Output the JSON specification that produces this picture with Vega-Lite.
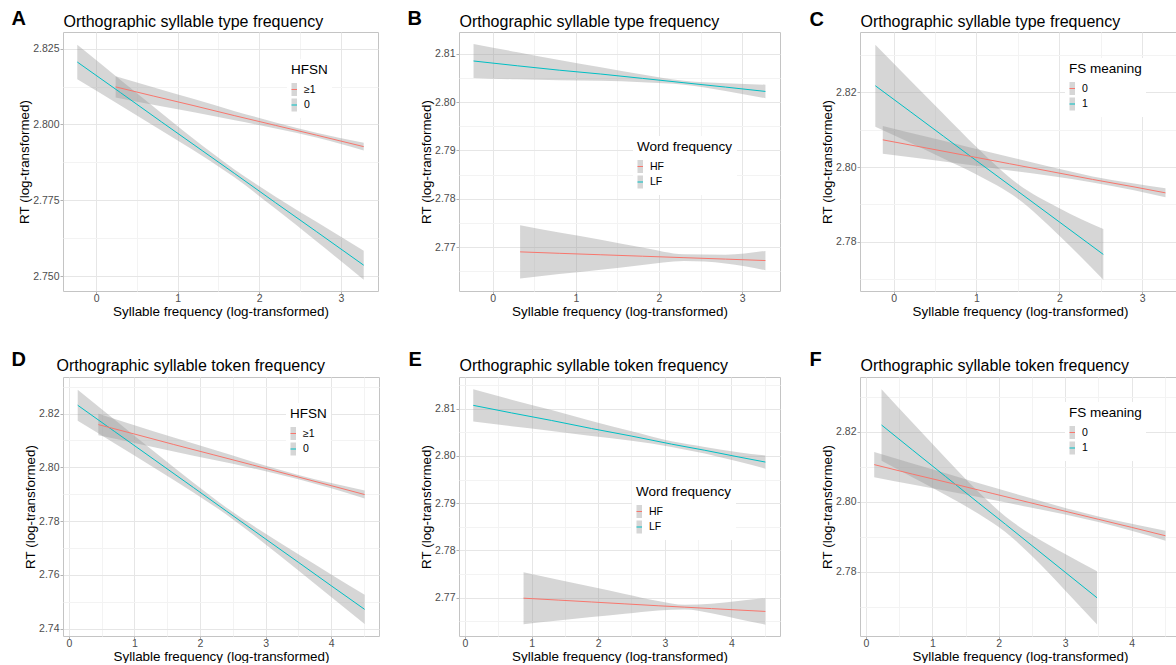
{
  "$schema": "https://vega.github.io/schema/vega-lite/v6.json",
  "background": "white",
  "padding": {"left": 10, "top": 7, "right": 0, "bottom": 0},
  "config": {
    "font": "Liberation Sans",
    "view": {"stroke": "#C4C4C4", "strokeWidth": 1},
    "axis": {"labelFontSize": 10.5, "labelColor": "#4D4D4D", "titleFontSize": 13.4, "titleFontWeight": "normal", "titleColor": "#000000", "titleLimit": 1000, "tickColor": "#B3B3B3", "tickSize": 3, "tickWidth": 1, "domain": false, "labelPadding": 1, "titlePadding": 1, "gridColor": "#E6E6E6", "gridWidth": 1, "labelOverlap": false, "labelFlush": false},
    "axisX": {"tickSize": 2.5, "labelPadding": 0, "titlePadding": 0},
    "legend": {"orient": "none", "direction": "vertical", "padding": 4, "rowPadding": -2.5, "symbolSize": 121, "symbolStrokeWidth": 1, "symbolType": "M-1,0H0V1.2H-1V-1.2H0V0Z", "symbolDash": [5.5, 300], "symbolFillColor": "#D6D6D6", "fillColor": "#FFFFFF", "labelFontSize": 10.5, "titleFontSize": 13.5, "titleFontWeight": "normal", "titlePadding": 7, "labelOffset": 1, "titleColor": "#000000", "labelColor": "#000000", "titleLimit": 1000}
  },
  "resolve": {"scale": {"stroke": "independent"}, "legend": {"stroke": "independent"}},
  "datasets": {
    "A": [
      {"g":"0","x":-0.23,"y":2.8206,"lo":2.8149,"hi":2.8263},
      {"g":"0","x":0.3,"y":2.8105,"lo":2.8063,"hi":2.8147},
      {"g":"0","x":0.8,"y":2.8009,"lo":2.7980,"hi":2.8038},
      {"g":"0","x":1.3,"y":2.7914,"lo":2.7897,"hi":2.7931},
      {"g":"0","x":1.7,"y":2.7838,"lo":2.7825,"hi":2.7851},
      {"g":"0","x":2.2,"y":2.7742,"lo":2.7722,"hi":2.7762},
      {"g":"0","x":2.7,"y":2.7647,"lo":2.7615,"hi":2.7679},
      {"g":"0","x":3.28,"y":2.7536,"lo":2.7488,"hi":2.7584},
      {"g":"≥1","x":0.24,"y":2.8124,"lo":2.8089,"hi":2.8159},
      {"g":"≥1","x":0.7,"y":2.8094,"lo":2.8065,"hi":2.8123},
      {"g":"≥1","x":1.2,"y":2.8062,"lo":2.8040,"hi":2.8084},
      {"g":"≥1","x":1.7,"y":2.8029,"lo":2.8014,"hi":2.8044},
      {"g":"≥1","x":2.2,"y":2.7997,"lo":2.7987,"hi":2.8007},
      {"g":"≥1","x":2.7,"y":2.7965,"lo":2.7957,"hi":2.7973},
      {"g":"≥1","x":3.28,"y":2.7927,"lo":2.7914,"hi":2.7940}
    ],
    "B": [
      {"g":"LF","x":-0.23,"y":2.8085,"lo":2.8050,"hi":2.8120},
      {"g":"LF","x":0.3,"y":2.8075,"lo":2.8047,"hi":2.8103},
      {"g":"LF","x":0.8,"y":2.8066,"lo":2.8045,"hi":2.8087},
      {"g":"LF","x":1.3,"y":2.8058,"lo":2.8044,"hi":2.8072},
      {"g":"LF","x":1.8,"y":2.8049,"lo":2.8041,"hi":2.8057},
      {"g":"LF","x":2.3,"y":2.8040,"lo":2.8036,"hi":2.8044},
      {"g":"LF","x":2.8,"y":2.8031,"lo":2.8023,"hi":2.8039},
      {"g":"LF","x":3.28,"y":2.8022,"lo":2.8008,"hi":2.8036},
      {"g":"HF","x":0.33,"y":2.7690,"lo":2.7635,"hi":2.7745},
      {"g":"HF","x":0.8,"y":2.7687,"lo":2.7644,"hi":2.7730},
      {"g":"HF","x":1.3,"y":2.7684,"lo":2.7653,"hi":2.7715},
      {"g":"HF","x":1.8,"y":2.7681,"lo":2.7663,"hi":2.7699},
      {"g":"HF","x":2.3,"y":2.7678,"lo":2.7671,"hi":2.7685},
      {"g":"HF","x":2.8,"y":2.7675,"lo":2.7666,"hi":2.7684},
      {"g":"HF","x":3.28,"y":2.7672,"lo":2.7652,"hi":2.7692}
    ],
    "C": [
      {"g":"1","x":-0.22,"y":2.8218,"lo":2.8108,"hi":2.8328},
      {"g":"1","x":0.2,"y":2.8149,"lo":2.8065,"hi":2.8233},
      {"g":"1","x":0.6,"y":2.8083,"lo":2.8023,"hi":2.8143},
      {"g":"1","x":1.0,"y":2.8017,"lo":2.7980,"hi":2.8054},
      {"g":"1","x":1.5,"y":2.7935,"lo":2.7915,"hi":2.7955},
      {"g":"1","x":2.0,"y":2.7853,"lo":2.7816,"hi":2.7890},
      {"g":"1","x":2.53,"y":2.7766,"lo":2.7698,"hi":2.7834},
      {"g":"0","x":-0.13,"y":2.8073,"lo":2.8036,"hi":2.8110},
      {"g":"0","x":0.4,"y":2.8051,"lo":2.8021,"hi":2.8081},
      {"g":"0","x":0.9,"y":2.8030,"lo":2.8006,"hi":2.8054},
      {"g":"0","x":1.4,"y":2.8009,"lo":2.7991,"hi":2.8027},
      {"g":"0","x":1.9,"y":2.7988,"lo":2.7976,"hi":2.8000},
      {"g":"0","x":2.4,"y":2.7967,"lo":2.7959,"hi":2.7975},
      {"g":"0","x":2.9,"y":2.7947,"lo":2.7938,"hi":2.7956},
      {"g":"0","x":3.28,"y":2.7931,"lo":2.7919,"hi":2.7943}
    ],
    "D": [
      {"g":"0","x":0.135,"y":2.8231,"lo":2.8173,"hi":2.8289},
      {"g":"0","x":0.7,"y":2.8133,"lo":2.8089,"hi":2.8177},
      {"g":"0","x":1.3,"y":2.8029,"lo":2.7999,"hi":2.8059},
      {"g":"0","x":1.9,"y":2.7925,"lo":2.7907,"hi":2.7943},
      {"g":"0","x":2.4,"y":2.7838,"lo":2.7825,"hi":2.7851},
      {"g":"0","x":2.9,"y":2.7751,"lo":2.7733,"hi":2.7769},
      {"g":"0","x":3.5,"y":2.7647,"lo":2.7617,"hi":2.7677},
      {"g":"0","x":4.0,"y":2.7560,"lo":2.7518,"hi":2.7602},
      {"g":"0","x":4.51,"y":2.7472,"lo":2.7418,"hi":2.7526},
      {"g":"≥1","x":0.45,"y":2.8159,"lo":2.8119,"hi":2.8199},
      {"g":"≥1","x":1.0,"y":2.8124,"lo":2.8091,"hi":2.8157},
      {"g":"≥1","x":1.6,"y":2.8085,"lo":2.8059,"hi":2.8111},
      {"g":"≥1","x":2.2,"y":2.8047,"lo":2.8028,"hi":2.8066},
      {"g":"≥1","x":2.8,"y":2.8009,"lo":2.7997,"hi":2.8021},
      {"g":"≥1","x":3.5,"y":2.7964,"lo":2.7956,"hi":2.7972},
      {"g":"≥1","x":4.0,"y":2.7932,"lo":2.7922,"hi":2.7942},
      {"g":"≥1","x":4.51,"y":2.7899,"lo":2.7884,"hi":2.7914}
    ],
    "E": [
      {"g":"LF","x":0.125,"y":2.8107,"lo":2.8073,"hi":2.8141},
      {"g":"LF","x":0.7,"y":2.8091,"lo":2.8063,"hi":2.8119},
      {"g":"LF","x":1.3,"y":2.8075,"lo":2.8053,"hi":2.8097},
      {"g":"LF","x":1.9,"y":2.8058,"lo":2.8042,"hi":2.8074},
      {"g":"LF","x":2.5,"y":2.8042,"lo":2.8032,"hi":2.8052},
      {"g":"LF","x":3.1,"y":2.8025,"lo":2.8019,"hi":2.8031},
      {"g":"LF","x":3.6,"y":2.8012,"lo":2.8005,"hi":2.8019},
      {"g":"LF","x":4.1,"y":2.7998,"lo":2.7988,"hi":2.8008},
      {"g":"LF","x":4.51,"y":2.7987,"lo":2.7973,"hi":2.8001},
      {"g":"HF","x":0.88,"y":2.7699,"lo":2.7644,"hi":2.7754},
      {"g":"HF","x":1.4,"y":2.7695,"lo":2.7652,"hi":2.7738},
      {"g":"HF","x":1.9,"y":2.7691,"lo":2.7659,"hi":2.7723},
      {"g":"HF","x":2.4,"y":2.7687,"lo":2.7666,"hi":2.7708},
      {"g":"HF","x":2.9,"y":2.7683,"lo":2.7673,"hi":2.7693},
      {"g":"HF","x":3.3,"y":2.7680,"lo":2.7675,"hi":2.7685},
      {"g":"HF","x":3.7,"y":2.7677,"lo":2.7667,"hi":2.7687},
      {"g":"HF","x":4.1,"y":2.7674,"lo":2.7655,"hi":2.7693},
      {"g":"HF","x":4.51,"y":2.7671,"lo":2.7643,"hi":2.7699}
    ],
    "F": [
      {"g":"1","x":0.235,"y":2.8219,"lo":2.8117,"hi":2.8321},
      {"g":"1","x":0.7,"y":2.8148,"lo":2.8070,"hi":2.8226},
      {"g":"1","x":1.2,"y":2.8072,"lo":2.8019,"hi":2.8125},
      {"g":"1","x":1.7,"y":2.7996,"lo":2.7965,"hi":2.8027},
      {"g":"1","x":2.1,"y":2.7936,"lo":2.7914,"hi":2.7958},
      {"g":"1","x":2.5,"y":2.7875,"lo":2.7845,"hi":2.7905},
      {"g":"1","x":3.0,"y":2.7799,"lo":2.7747,"hi":2.7851},
      {"g":"1","x":3.48,"y":2.7726,"lo":2.7650,"hi":2.7802},
      {"g":"0","x":0.125,"y":2.8106,"lo":2.8070,"hi":2.8142},
      {"g":"0","x":0.7,"y":2.8079,"lo":2.8049,"hi":2.8109},
      {"g":"0","x":1.3,"y":2.8052,"lo":2.8028,"hi":2.8076},
      {"g":"0","x":1.9,"y":2.8024,"lo":2.8006,"hi":2.8042},
      {"g":"0","x":2.5,"y":2.7996,"lo":2.7983,"hi":2.8009},
      {"g":"0","x":3.0,"y":2.7973,"lo":2.7964,"hi":2.7982},
      {"g":"0","x":3.5,"y":2.7950,"lo":2.7942,"hi":2.7958},
      {"g":"0","x":4.0,"y":2.7927,"lo":2.7917,"hi":2.7937},
      {"g":"0","x":4.51,"y":2.7903,"lo":2.7889,"hi":2.7917}
    ]
  },
  "spacing": 30,
  "vconcat": [
    {
      "spacing": 27,
      "resolve": {"scale": {"stroke": "independent"}, "legend": {"stroke": "independent"}},
      "hconcat": [
        {
          "width": 315, "height": 259,
          "data": {"name": "A"},
          "layer": [
            {
              "mark": {"type": "area", "interpolate": "monotone", "opacity": 0.4, "color": "#999999"},
              "encoding": {
                "x": {"field": "x", "type": "quantitative", "scale": {"domain": [-0.405, 3.455], "nice": false, "zero": false},
                  "axis": {"orient": "bottom", "values": [0, 0.5, 1, 1.5, 2, 2.5, 3], "title": "Syllable frequency (log-transformed)",
                    "labelExpr": "datum.value % 1 === 0 ? format(datum.value, 'd') : ''",
                    "gridColor": {"condition": {"test": "datum.value % 1 !== 0", "value": "#F3F3F3"}, "value": "#E6E6E6"},
                    "tickOpacity": {"condition": {"test": "datum.value % 1 !== 0", "value": 0}, "value": 1}}},
                "y": {"field": "lo", "type": "quantitative", "scale": {"domain": [2.7451, 2.8305], "nice": false, "zero": false},
                  "axis": {"orient": "left", "values": [2.75, 2.7625, 2.775, 2.7875, 2.8, 2.8125, 2.825], "title": "RT (log-transformed)",
                    "labelExpr": "abs(datum.value*40 - round(datum.value*40)) > 0.1 ? '' : format(datum.value, '.3f')",
                    "gridColor": {"condition": {"test": "abs(datum.value*40 - round(datum.value*40)) > 0.1", "value": "#F3F3F3"}, "value": "#E6E6E6"},
                    "tickOpacity": {"condition": {"test": "abs(datum.value*40 - round(datum.value*40)) > 0.1", "value": 0}, "value": 1}}},
                "y2": {"field": "hi"},
                "detail": {"field": "g", "type": "nominal"}
              }
            },
            {
              "mark": {"type": "line", "strokeWidth": 1},
              "encoding": {
                "x": {"field": "x", "type": "quantitative",
                  "axis": {"orient": "top", "grid": false, "labels": false, "ticks": false, "domain": false, "title": "Orthographic syllable type frequency", "titleAngle": 0, "titleX": 0, "titleY": -6, "titleAlign": "left", "titleBaseline": "alphabetic", "titleFontSize": 16}},
                "y": {"field": "y", "type": "quantitative",
                  "axis": {"orient": "left", "grid": false, "labels": false, "ticks": false, "domain": false, "title": "A", "titleAngle": 0, "titleX": -52, "titleY": -8, "titleAlign": "left", "titleBaseline": "alphabetic", "titleFontSize": 20, "titleFontWeight": "bold"}},
                "stroke": {"field": "g", "type": "nominal", "scale": {"domain": ["≥1", "0"], "range": ["#F8766D", "#00BFC4"]},
                  "legend": {"legendX": 224, "legendY": 27, "title": "HFSN"}}
              }
            }
          ],
          "resolve": {"axis": {"x": "independent", "y": "independent"}}
        },
        {
          "width": 321, "height": 259,
          "data": {"name": "B"},
          "layer": [
            {
              "mark": {"type": "area", "interpolate": "monotone", "opacity": 0.4, "color": "#999999"},
              "encoding": {
                "x": {"field": "x", "type": "quantitative", "scale": {"domain": [-0.405, 3.455], "nice": false, "zero": false},
                  "axis": {"orient": "bottom", "values": [0, 0.5, 1, 1.5, 2, 2.5, 3], "title": "Syllable frequency (log-transformed)",
                    "labelExpr": "datum.value % 1 === 0 ? format(datum.value, 'd') : ''",
                    "gridColor": {"condition": {"test": "datum.value % 1 !== 0", "value": "#F3F3F3"}, "value": "#E6E6E6"},
                    "tickOpacity": {"condition": {"test": "datum.value % 1 !== 0", "value": 0}, "value": 1}}},
                "y": {"field": "lo", "type": "quantitative", "scale": {"domain": [2.7609, 2.8145], "nice": false, "zero": false},
                  "axis": {"orient": "left", "values": [2.765, 2.77, 2.775, 2.78, 2.785, 2.79, 2.795, 2.8, 2.805, 2.81], "title": "RT (log-transformed)",
                    "labelExpr": "abs(datum.value*100 - round(datum.value*100)) > 0.1 ? '' : format(datum.value, '.2f')",
                    "gridColor": {"condition": {"test": "abs(datum.value*100 - round(datum.value*100)) > 0.1", "value": "#F3F3F3"}, "value": "#E6E6E6"},
                    "tickOpacity": {"condition": {"test": "abs(datum.value*100 - round(datum.value*100)) > 0.1", "value": 0}, "value": 1}}},
                "y2": {"field": "hi"},
                "detail": {"field": "g", "type": "nominal"}
              }
            },
            {
              "mark": {"type": "line", "strokeWidth": 1},
              "encoding": {
                "x": {"field": "x", "type": "quantitative",
                  "axis": {"orient": "top", "grid": false, "labels": false, "ticks": false, "domain": false, "title": "Orthographic syllable type frequency", "titleAngle": 0, "titleX": 0, "titleY": -6, "titleAlign": "left", "titleBaseline": "alphabetic", "titleFontSize": 16}},
                "y": {"field": "y", "type": "quantitative",
                  "axis": {"orient": "left", "grid": false, "labels": false, "ticks": false, "domain": false, "title": "B", "titleAngle": 0, "titleX": -52, "titleY": -8, "titleAlign": "left", "titleBaseline": "alphabetic", "titleFontSize": 20, "titleFontWeight": "bold"}},
                "stroke": {"field": "g", "type": "nominal", "scale": {"domain": ["HF", "LF"], "range": ["#F8766D", "#00BFC4"]},
                  "legend": {"legendX": 174, "legendY": 104, "title": "Word frequency"}}
              }
            }
          ],
          "resolve": {"axis": {"x": "independent", "y": "independent"}}
        },
        {
          "width": 320, "height": 259,
          "data": {"name": "C"},
          "layer": [
            {
              "mark": {"type": "area", "interpolate": "monotone", "opacity": 0.4, "color": "#999999"},
              "encoding": {
                "x": {"field": "x", "type": "quantitative", "scale": {"domain": [-0.405, 3.455], "nice": false, "zero": false},
                  "axis": {"orient": "bottom", "values": [0, 0.5, 1, 1.5, 2, 2.5, 3], "title": "Syllable frequency (log-transformed)",
                    "labelExpr": "datum.value % 1 === 0 ? format(datum.value, 'd') : ''",
                    "gridColor": {"condition": {"test": "datum.value % 1 !== 0", "value": "#F3F3F3"}, "value": "#E6E6E6"},
                    "tickOpacity": {"condition": {"test": "datum.value % 1 !== 0", "value": 0}, "value": 1}}},
                "y": {"field": "lo", "type": "quantitative", "scale": {"domain": [2.7668, 2.8362], "nice": false, "zero": false},
                  "axis": {"orient": "left", "values": [2.77, 2.78, 2.79, 2.8, 2.81, 2.82, 2.83], "title": "RT (log-transformed)",
                    "labelExpr": "abs(datum.value*50 - round(datum.value*50)) > 0.1 ? '' : format(datum.value, '.2f')",
                    "gridColor": {"condition": {"test": "abs(datum.value*50 - round(datum.value*50)) > 0.1", "value": "#F3F3F3"}, "value": "#E6E6E6"},
                    "tickOpacity": {"condition": {"test": "abs(datum.value*50 - round(datum.value*50)) > 0.1", "value": 0}, "value": 1}}},
                "y2": {"field": "hi"},
                "detail": {"field": "g", "type": "nominal"}
              }
            },
            {
              "mark": {"type": "line", "strokeWidth": 1},
              "encoding": {
                "x": {"field": "x", "type": "quantitative",
                  "axis": {"orient": "top", "grid": false, "labels": false, "ticks": false, "domain": false, "title": "Orthographic syllable type frequency", "titleAngle": 0, "titleX": 0, "titleY": -6, "titleAlign": "left", "titleBaseline": "alphabetic", "titleFontSize": 16}},
                "y": {"field": "y", "type": "quantitative",
                  "axis": {"orient": "left", "grid": false, "labels": false, "ticks": false, "domain": false, "title": "C", "titleAngle": 0, "titleX": -51, "titleY": -7, "titleAlign": "left", "titleBaseline": "alphabetic", "titleFontSize": 20, "titleFontWeight": "bold"}},
                "stroke": {"field": "g", "type": "nominal", "scale": {"domain": ["0", "1"], "range": ["#F8766D", "#00BFC4"]},
                  "legend": {"legendX": 205, "legendY": 26, "title": "FS meaning"}}
              }
            }
          ],
          "resolve": {"axis": {"x": "independent", "y": "independent"}}
        }
      ]
    },
    {
      "spacing": 27,
      "resolve": {"scale": {"stroke": "independent"}, "legend": {"stroke": "independent"}},
      "hconcat": [
        {
          "width": 316, "height": 259,
          "data": {"name": "D"},
          "layer": [
            {
              "mark": {"type": "area", "interpolate": "monotone", "opacity": 0.4, "color": "#999999"},
              "encoding": {
                "x": {"field": "x", "type": "quantitative", "scale": {"domain": [-0.089, 4.729], "nice": false, "zero": false},
                  "axis": {"orient": "bottom", "values": [0, 0.5, 1, 1.5, 2, 2.5, 3, 3.5, 4, 4.5], "title": "Syllable frequency (log-transformed)",
                    "labelExpr": "datum.value % 1 === 0 ? format(datum.value, 'd') : ''",
                    "gridColor": {"condition": {"test": "datum.value % 1 !== 0", "value": "#F3F3F3"}, "value": "#E6E6E6"},
                    "tickOpacity": {"condition": {"test": "datum.value % 1 !== 0", "value": 0}, "value": 1}}},
                "y": {"field": "lo", "type": "quantitative", "scale": {"domain": [2.7373, 2.8336], "nice": false, "zero": false},
                  "axis": {"orient": "left", "values": [2.74, 2.75, 2.76, 2.77, 2.78, 2.79, 2.8, 2.81, 2.82, 2.83], "title": "RT (log-transformed)",
                    "labelExpr": "abs(datum.value*50 - round(datum.value*50)) > 0.1 ? '' : format(datum.value, '.2f')",
                    "gridColor": {"condition": {"test": "abs(datum.value*50 - round(datum.value*50)) > 0.1", "value": "#F3F3F3"}, "value": "#E6E6E6"},
                    "tickOpacity": {"condition": {"test": "abs(datum.value*50 - round(datum.value*50)) > 0.1", "value": 0}, "value": 1}}},
                "y2": {"field": "hi"},
                "detail": {"field": "g", "type": "nominal"}
              }
            },
            {
              "mark": {"type": "line", "strokeWidth": 1},
              "encoding": {
                "x": {"field": "x", "type": "quantitative",
                  "axis": {"orient": "top", "grid": false, "labels": false, "ticks": false, "domain": false, "title": "Orthographic syllable token frequency", "titleAngle": 0, "titleX": -7, "titleY": -7, "titleAlign": "left", "titleBaseline": "alphabetic", "titleFontSize": 16}},
                "y": {"field": "y", "type": "quantitative",
                  "axis": {"orient": "left", "grid": false, "labels": false, "ticks": false, "domain": false, "title": "D", "titleAngle": 0, "titleX": -52, "titleY": -12, "titleAlign": "left", "titleBaseline": "alphabetic", "titleFontSize": 20, "titleFontWeight": "bold"}},
                "stroke": {"field": "g", "type": "nominal", "scale": {"domain": ["≥1", "0"], "range": ["#F8766D", "#00BFC4"]},
                  "legend": {"legendX": 223, "legendY": 26, "title": "HFSN"}}
              }
            }
          ],
          "resolve": {"axis": {"x": "independent", "y": "independent"}}
        },
        {
          "width": 321, "height": 259,
          "data": {"name": "E"},
          "layer": [
            {
              "mark": {"type": "area", "interpolate": "monotone", "opacity": 0.4, "color": "#999999"},
              "encoding": {
                "x": {"field": "x", "type": "quantitative", "scale": {"domain": [-0.089, 4.729], "nice": false, "zero": false},
                  "axis": {"orient": "bottom", "values": [0, 0.5, 1, 1.5, 2, 2.5, 3, 3.5, 4, 4.5], "title": "Syllable frequency (log-transformed)",
                    "labelExpr": "datum.value % 1 === 0 ? format(datum.value, 'd') : ''",
                    "gridColor": {"condition": {"test": "datum.value % 1 !== 0", "value": "#F3F3F3"}, "value": "#E6E6E6"},
                    "tickOpacity": {"condition": {"test": "datum.value % 1 !== 0", "value": 0}, "value": 1}}},
                "y": {"field": "lo", "type": "quantitative", "scale": {"domain": [2.7619, 2.8167], "nice": false, "zero": false},
                  "axis": {"orient": "left", "values": [2.765, 2.77, 2.775, 2.78, 2.785, 2.79, 2.795, 2.8, 2.805, 2.81, 2.815], "title": "RT (log-transformed)",
                    "labelExpr": "abs(datum.value*100 - round(datum.value*100)) > 0.1 ? '' : format(datum.value, '.2f')",
                    "gridColor": {"condition": {"test": "abs(datum.value*100 - round(datum.value*100)) > 0.1", "value": "#F3F3F3"}, "value": "#E6E6E6"},
                    "tickOpacity": {"condition": {"test": "abs(datum.value*100 - round(datum.value*100)) > 0.1", "value": 0}, "value": 1}}},
                "y2": {"field": "hi"},
                "detail": {"field": "g", "type": "nominal"}
              }
            },
            {
              "mark": {"type": "line", "strokeWidth": 1},
              "encoding": {
                "x": {"field": "x", "type": "quantitative",
                  "axis": {"orient": "top", "grid": false, "labels": false, "ticks": false, "domain": false, "title": "Orthographic syllable token frequency", "titleAngle": 0, "titleX": 0, "titleY": -7, "titleAlign": "left", "titleBaseline": "alphabetic", "titleFontSize": 16}},
                "y": {"field": "y", "type": "quantitative",
                  "axis": {"orient": "left", "grid": false, "labels": false, "ticks": false, "domain": false, "title": "E", "titleAngle": 0, "titleX": -51, "titleY": -12, "titleAlign": "left", "titleBaseline": "alphabetic", "titleFontSize": 20, "titleFontWeight": "bold"}},
                "stroke": {"field": "g", "type": "nominal", "scale": {"domain": ["HF", "LF"], "range": ["#F8766D", "#00BFC4"]},
                  "legend": {"legendX": 173, "legendY": 104, "title": "Word frequency"}}
              }
            }
          ],
          "resolve": {"axis": {"x": "independent", "y": "independent"}}
        },
        {
          "width": 320, "height": 259,
          "data": {"name": "F"},
          "layer": [
            {
              "mark": {"type": "area", "interpolate": "monotone", "opacity": 0.4, "color": "#999999"},
              "encoding": {
                "x": {"field": "x", "type": "quantitative", "scale": {"domain": [-0.089, 4.729], "nice": false, "zero": false},
                  "axis": {"orient": "bottom", "values": [0, 0.5, 1, 1.5, 2, 2.5, 3, 3.5, 4, 4.5], "title": "Syllable frequency (log-transformed)",
                    "labelExpr": "datum.value % 1 === 0 ? format(datum.value, 'd') : ''",
                    "gridColor": {"condition": {"test": "datum.value % 1 !== 0", "value": "#F3F3F3"}, "value": "#E6E6E6"},
                    "tickOpacity": {"condition": {"test": "datum.value % 1 !== 0", "value": 0}, "value": 1}}},
                "y": {"field": "lo", "type": "quantitative", "scale": {"domain": [2.7617, 2.8356], "nice": false, "zero": false},
                  "axis": {"orient": "left", "values": [2.77, 2.78, 2.79, 2.8, 2.81, 2.82, 2.83], "title": "RT (log-transformed)",
                    "labelExpr": "abs(datum.value*50 - round(datum.value*50)) > 0.1 ? '' : format(datum.value, '.2f')",
                    "gridColor": {"condition": {"test": "abs(datum.value*50 - round(datum.value*50)) > 0.1", "value": "#F3F3F3"}, "value": "#E6E6E6"},
                    "tickOpacity": {"condition": {"test": "abs(datum.value*50 - round(datum.value*50)) > 0.1", "value": 0}, "value": 1}}},
                "y2": {"field": "hi"},
                "detail": {"field": "g", "type": "nominal"}
              }
            },
            {
              "mark": {"type": "line", "strokeWidth": 1},
              "encoding": {
                "x": {"field": "x", "type": "quantitative",
                  "axis": {"orient": "top", "grid": false, "labels": false, "ticks": false, "domain": false, "title": "Orthographic syllable token frequency", "titleAngle": 0, "titleX": 0, "titleY": -7, "titleAlign": "left", "titleBaseline": "alphabetic", "titleFontSize": 16}},
                "y": {"field": "y", "type": "quantitative",
                  "axis": {"orient": "left", "grid": false, "labels": false, "ticks": false, "domain": false, "title": "F", "titleAngle": 0, "titleX": -51, "titleY": -12, "titleAlign": "left", "titleBaseline": "alphabetic", "titleFontSize": 20, "titleFontWeight": "bold"}},
                "stroke": {"field": "g", "type": "nominal", "scale": {"domain": ["0", "1"], "range": ["#F8766D", "#00BFC4"]},
                  "legend": {"legendX": 205, "legendY": 25, "title": "FS meaning"}}
              }
            }
          ],
          "resolve": {"axis": {"x": "independent", "y": "independent"}}
        }
      ]
    }
  ]
}
